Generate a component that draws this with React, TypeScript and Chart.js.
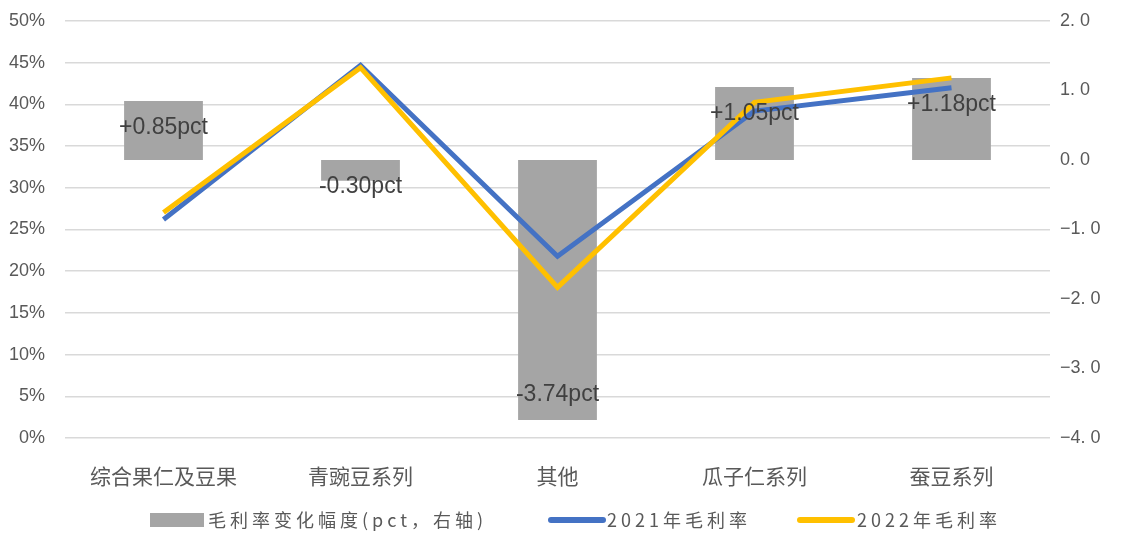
import React, { useEffect, useRef } from 'react';
import { Chart, registerables } from 'chart.js';
Chart.register(...registerables);

const categories = ['综合果仁及豆果', '青豌豆系列', '其他', '瓜子仁系列', '蚕豆系列'];
const changePct = [0.85, -0.3, -3.74, 1.05, 1.18];
const changeLabels = ['+0.85pct', '-0.30pct', '-3.74pct', '+1.05pct', '+1.18pct'];
const margin2021 = [26.2, 44.7, 21.8, 39.2, 42.0];
const margin2022 = [27.05, 44.4, 18.06, 40.25, 43.18];
const legendLabels = ['毛利率变化幅度(pct，右轴)', '2021年毛利率', '2022年毛利率'];

const BAR_COLOR = '#A5A5A5';
const BLUE = '#4472C4';
const YELLOW = '#FFC000';
const TEXT = '#595959';
const CJK = '"Noto Sans CJK SC", "Noto Sans", sans-serif';
const LATIN = '"Liberation Sans", Arial, sans-serif';

const labelPlugin = {
  id: 'barLabels',
  afterDatasetsDraw(chart: any) {
    const meta = chart.getDatasetMeta(0);
    const ctx = chart.ctx;
    ctx.save();
    ctx.font = `23px ${LATIN}`;
    ctx.fillStyle = '#404040';
    ctx.textAlign = 'center';
    ctx.textBaseline = 'middle';
    meta.data.forEach((bar: any, i: number) => {
      const v = changePct[i];
      const len = Math.abs(bar.base - bar.y);
      let y: number;
      if (len > 52) y = v >= 0 ? bar.y + 27 : bar.y - 25;
      else y = v >= 0 ? bar.y - 6 : bar.y + 6;
      ctx.fillText(changeLabels[i], bar.x, y);
    });
    ctx.restore();
  },
};

const legendPlugin = {
  id: 'customLegend',
  afterDraw(chart: any) {
    const ctx = chart.ctx;
    const y = 520;
    ctx.save();
    ctx.font = `18px ${CJK}`;
    ctx.textAlign = 'left';
    ctx.textBaseline = 'middle';
    (ctx as any).letterSpacing = '4px';
    ctx.fillStyle = BAR_COLOR;
    ctx.fillRect(150, 513, 54, 14);
    ctx.fillStyle = TEXT;
    ctx.fillText(legendLabels[0], 208, y);
    ctx.lineCap = 'round';
    ctx.lineWidth = 6;
    ctx.strokeStyle = BLUE;
    ctx.beginPath();
    ctx.moveTo(551, y);
    ctx.lineTo(603, y);
    ctx.stroke();
    ctx.fillText(legendLabels[1], 607, y);
    ctx.strokeStyle = YELLOW;
    ctx.beginPath();
    ctx.moveTo(800, y);
    ctx.lineTo(852, y);
    ctx.stroke();
    ctx.fillText(legendLabels[2], 857, y);
    ctx.restore();
  },
};

export default function App() {
  const ref = useRef<HTMLCanvasElement>(null);
  useEffect(() => {
    document.body.style.margin = '0';
    const chart = new Chart(ref.current!, {
      type: 'bar',
      data: {
        labels: categories,
        datasets: [
          {
            type: 'bar',
            label: legendLabels[0],
            data: changePct,
            yAxisID: 'y1',
            backgroundColor: BAR_COLOR,
            barPercentage: 0.4,
            categoryPercentage: 1,
            order: 3,
          } as any,
          {
            type: 'line',
            label: legendLabels[1],
            data: margin2021,
            yAxisID: 'y',
            borderColor: BLUE,
            backgroundColor: BLUE,
            borderWidth: 5,
            pointRadius: 0,
            tension: 0,
            order: 2,
          },
          {
            type: 'line',
            label: legendLabels[2],
            data: margin2022,
            yAxisID: 'y',
            borderColor: YELLOW,
            backgroundColor: YELLOW,
            borderWidth: 5,
            pointRadius: 0,
            tension: 0,
            order: 1,
          },
        ],
      },
      options: {
        responsive: false,
        animation: false,
        layout: { padding: { top: 21, left: 0, right: 0, bottom: 0 } },
        plugins: { legend: { display: false }, tooltip: { enabled: false } },
        scales: {
          x: {
            grid: { display: false },
            border: { display: false },
            ticks: { font: { family: CJK, size: 21 }, color: TEXT, padding: 17, maxRotation: 0 },
            afterFit: (s: any) => {
              s.height = 96;
            },
          },
          y: {
            position: 'left',
            min: 0,
            max: 50,
            ticks: {
              stepSize: 5,
              callback: (v: any) => `${v}%`,
              font: { family: LATIN, size: 18 },
              color: TEXT,
              padding: 20,
            },
            grid: { color: '#d9d9d9', lineWidth: 1.5, drawTicks: false },
            border: { display: false },
            afterFit: (s: any) => {
              s.width = 65;
              s.paddingTop = 0;
              s.paddingBottom = 0;
            },
          },
          y1: {
            position: 'right',
            min: -4,
            max: 2,
            ticks: {
              stepSize: 1,
              callback: (v: any) =>
                (Number(v) < 0 ? '−' : '') + Math.abs(Number(v)).toFixed(1).replace('.', '. '),
              font: { family: LATIN, size: 18 },
              color: TEXT,
              padding: 10,
            },
            grid: { display: false, drawTicks: false },
            border: { display: false },
            afterFit: (s: any) => {
              s.width = 81;
              s.paddingTop = 0;
              s.paddingBottom = 0;
            },
          },
        },
      },
      plugins: [labelPlugin, legendPlugin],
    });
    return () => chart.destroy();
  }, []);
  return (
    <div style={{ width: 1131, height: 534 }}>
      <canvas ref={ref} width={1131} height={534} style={{ display: 'block' }} />
    </div>
  );
}
